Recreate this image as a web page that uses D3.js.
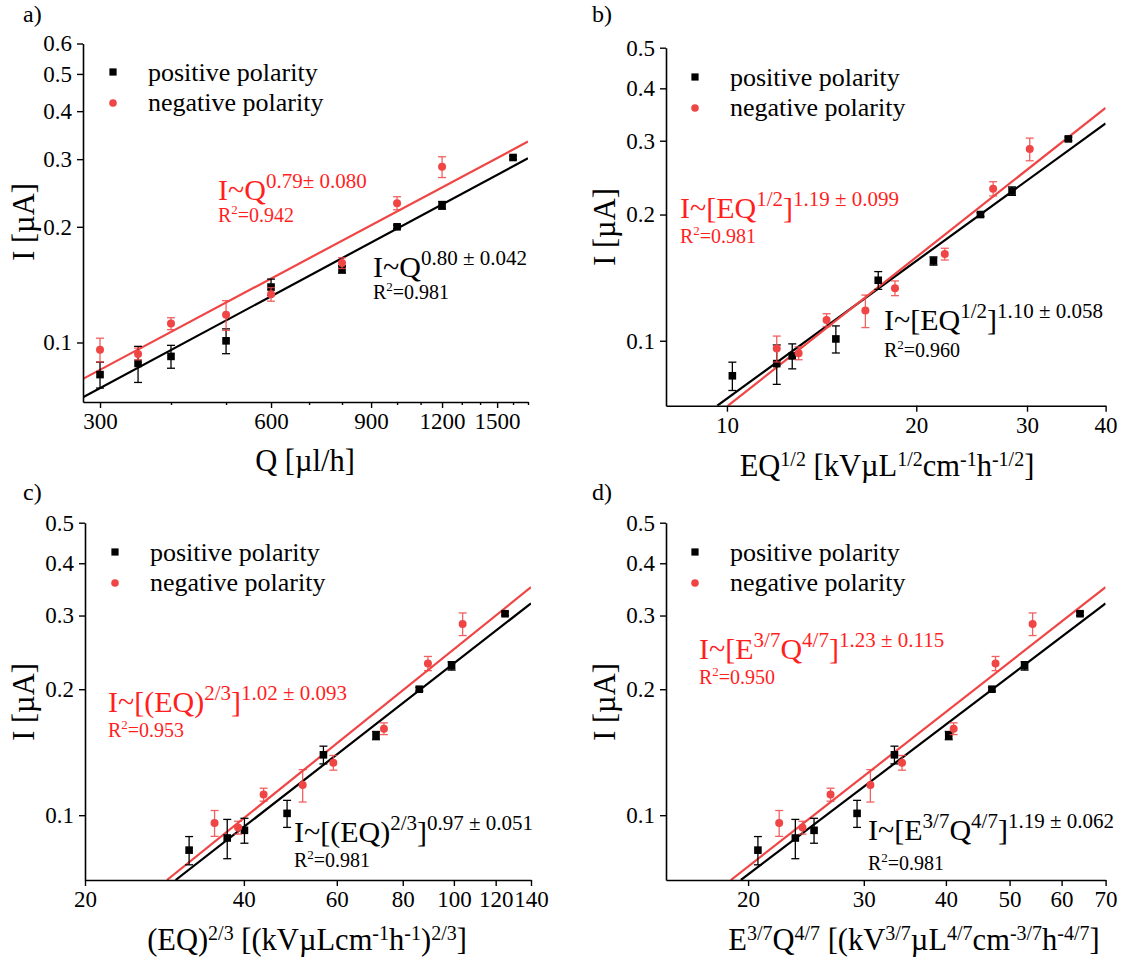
<!DOCTYPE html>
<html>
<head>
<meta charset="utf-8">
<script src="https://cdn.jsdelivr.net/npm/d3@7"></script>
<style>
  body { margin: 0; background: #fff; }
  svg { display: block; }
</style>
</head>
<body>
<div id="chart"></div>
<script>
// measured current, same for all four panels
const posCurrent = [0.0825, 0.0882, 0.092, 0.101, 0.1394, 0.155, 0.2, 0.2275, 0.303];
const posError = [0.0064, 0.0095, 0.0063, 0.0075, 0.0068, 0.0035, 0.002, 0.0053, 0.003];
const negCurrent = [0.0958, 0.0934, 0.112, 0.118, 0.1335, 0.161, 0.2305, 0.2865];
const negError = [0.0068, 0.0033, 0.004, 0.0105, 0.0054, 0.0052, 0.009, 0.0178];

// x values per panel
const posQ = [300, 350, 400, 500, 600, 800, 1000, 1200, 1600];
const negQ = [300, 350, 400, 500, 600, 800, 1000, 1200];
const posEQ12 = [10.2, 12.0, 12.7, 14.9, 17.4, 21.3, 25.3, 28.4, 34.9];
const negEQ12 = [12.0, 13.0, 14.4, 16.6, 18.5, 22.2, 26.5, 30.3];
const posEQ23 = [31.5, 37.2, 40.1, 48.3, 56.6, 71.2, 86, 99, 125];
const negEQ23 = [35.2, 39, 43.6, 51.7, 59.1, 73.7, 89.3, 103.9];
const posE37Q47 = [20.7, 23.6, 25.2, 29.3, 33.4, 40.4, 47.0, 52.7, 64.0];
const negE37Q47 = [22.3, 24.2, 26.7, 30.7, 34.3, 41.1, 47.6, 54.2];

// fitted power-law lines, two points each [x, I]
const fitPosQ = [[280, 0.0720], [1700, 0.3016]];
const fitNegQ = [[280, 0.0804], [1700, 0.3334]];
const fitPosEQ12 = [[9.65, 0.07], [40, 0.330]];
const fitNegEQ12 = [[10.04, 0.07], [40, 0.3594]];
const fitPosEQ23 = [[29.7, 0.07], [140, 0.3208]];
const fitNegEQ23 = [[28.6, 0.07], [140, 0.3507]];
const fitPosE37 = [[19.5, 0.07], [70, 0.3208]];
const fitNegE37 = [[18.83, 0.07], [70, 0.3507]];

// ticks
const qTicks = [300, 600, 900, 1200, 1500];
const qMinorTicks = [400, 500, 700, 800, 1000, 1100, 1300, 1400, 1600, 1700];
const eq12Ticks = [10, 20, 30, 40];
const eq23Ticks = [20, 40, 60, 80, 100, 120, 140];
const e37Ticks = [20, 30, 40, 50, 60, 70];
const currentTicksA = [0.1, 0.2, 0.3, 0.4, 0.5, 0.6];
const currentTicks = [0.1, 0.2, 0.3, 0.4, 0.5];

const legendLabels = ["positive polarity", "negative polarity"];

const FONT = "'Liberation Serif', Tinos, 'Times New Roman', 'Nimbus Roman', 'DejaVu Serif', serif";
const black = "#000";
const red = "#f04545";
const redText = "#ff1f1f";

const panels = [
  {
    tag: "a)", tagX: 23, tagY: 22,
    left: 83, right: 528, top: 43.5, bottom: 402,
    xDomain: [280, 1700], yDomain: [0.07, 0.6],
    xTicks: qTicks, xMinor: qMinorTicks, yTicks: currentTicksA,
    posX: posQ, negX: negQ, fitPos: fitPosQ, fitNeg: fitNegQ,
    xTitle: [["Q [µl/h]", 0]], xTitleX: 305, xTitleY: 471,
    yTitleX: 34, yTitleY: 222,
    legX: 113, legY: 72,
    negAnn: { x: 218, y: 200, r2y: 221.5, main: [["I~Q", 0], ["0.79± 0.080", 1]], r2: "0.942" },
    posAnn: { x: 373, y: 277, r2y: 298.5, main: [["I~Q", 0], ["0.80 ± 0.042", 1]], r2: "0.981" }
  },
  {
    tag: "b)", tagX: 592, tagY: 22,
    left: 666, right: 1105.6, top: 47.7, bottom: 405.7,
    xDomain: [8, 40], yDomain: [0.07, 0.5],
    xTicks: eq12Ticks, xMinor: [], yTicks: currentTicks,
    posX: posEQ12, negX: negEQ12, fitPos: fitPosEQ12, fitNeg: fitNegEQ12,
    xTitle: [["EQ", 0], ["1/2", 1], [" [kVµL", 0], ["1/2", 1], ["cm", 0], ["-1", 1], ["h", 0], ["-1/2", 1], ["]", 0]],
    xTitleX: 887, xTitleY: 476,
    yTitleX: 615, yTitleY: 227,
    legX: 695, legY: 77,
    negAnn: { x: 680, y: 218, r2y: 243, main: [["I~[EQ", 0], ["1/2", 1], ["]", 0], ["1.19 ± 0.099", 1]], r2: "0.981" },
    posAnn: { x: 884, y: 330, r2y: 356.5, main: [["I~[EQ", 0], ["1/2", 1], ["]", 0], ["1.10 ± 0.058", 1]], r2: "0.960" }
  },
  {
    tag: "c)", tagX: 23, tagY: 500,
    left: 85, right: 531, top: 522.7, bottom: 880,
    xDomain: [20, 140], yDomain: [0.07, 0.5],
    xTicks: eq23Ticks, xMinor: [], yTicks: currentTicks,
    posX: posEQ23, negX: negEQ23, fitPos: fitPosEQ23, fitNeg: fitNegEQ23,
    xTitle: [["(EQ)", 0], ["2/3", 1], [" [(kVµLcm", 0], ["-1", 1], ["h", 0], ["-1", 1], [")", 0], ["2/3", 1], ["]", 0]],
    xTitleX: 307, xTitleY: 950,
    yTitleX: 34, yTitleY: 702,
    legX: 115, legY: 552,
    negAnn: { x: 108, y: 711.5, r2y: 736.5, main: [["I~[(EQ)", 0], ["2/3", 1], ["]", 0], ["1.02 ± 0.093", 1]], r2: "0.953" },
    posAnn: { x: 294, y: 841.5, r2y: 866.5, main: [["I~[(EQ)", 0], ["2/3", 1], ["]", 0], ["0.97 ± 0.051", 1]], r2: "0.981" }
  },
  {
    tag: "d)", tagX: 592, tagY: 500,
    left: 666, right: 1105.6, top: 522.7, bottom: 880,
    xDomain: [15, 70], yDomain: [0.07, 0.5],
    xTicks: e37Ticks, xMinor: [], yTicks: currentTicks,
    posX: posE37Q47, negX: negE37Q47, fitPos: fitPosE37, fitNeg: fitNegE37,
    xTitle: [["E", 0], ["3/7", 1], ["Q", 0], ["4/7", 1], [" [(kV", 0], ["3/7", 1], ["µL", 0], ["4/7", 1], ["cm", 0], ["-3/7", 1], ["h", 0], ["-4/7", 1], ["]", 0]],
    xTitleX: 914, xTitleY: 950,
    yTitleX: 615, yTitleY: 702,
    legX: 695, legY: 552,
    negAnn: { x: 699, y: 658.5, r2y: 684, main: [["I~[E", 0], ["3/7", 1], ["Q", 0], ["4/7", 1], ["]", 0], ["1.23 ± 0.115", 1]], r2: "0.950" },
    posAnn: { x: 868, y: 840, r2y: 870, main: [["I~[E", 0], ["3/7", 1], ["Q", 0], ["4/7", 1], ["]", 0], ["1.19 ± 0.062", 1]], r2: "0.981" }
  }
];

const svg = d3.select("#chart").append("svg")
  .attr("width", 1128)
  .attr("height", 968)
  .attr("font-family", FONT);

// text with superscripts; segments are [text, isSup]
function richText(parent, x, y, segments, size, supSize, rise, color, anchor) {
  const t = parent.append("text")
    .attr("x", x)
    .attr("y", y)
    .attr("fill", color)
    .attr("font-family", FONT)
    .attr("font-size", size)
    .attr("text-anchor", anchor || "start");
  let up = false;
  segments.forEach(([s, sup]) => {
    const ts = t.append("tspan").text(s);
    if (sup && !up) { ts.attr("dy", -rise); up = true; }
    else if (!sup && up) { ts.attr("dy", rise); up = false; }
    ts.attr("font-size", sup ? supSize : size);
  });
  return t;
}

panels.forEach((p, pi) => {
  const x = d3.scaleLog().domain(p.xDomain).range([p.left, p.right]);
  const y = d3.scaleLog().domain(p.yDomain).range([p.bottom, p.top]);
  const g = svg.append("g");

  const clipId = "clip" + pi;
  g.append("clipPath").attr("id", clipId)
    .append("rect")
    .attr("x", p.left).attr("y", p.top)
    .attr("width", p.right - p.left).attr("height", p.bottom - p.top);

  // fit lines
  const line = d3.line().x(d => x(d[0])).y(d => y(d[1]));
  g.append("path").datum(p.fitPos)
    .attr("d", line).attr("fill", "none")
    .attr("stroke", black).attr("stroke-width", 2.2)
    .attr("clip-path", `url(#${clipId})`);
  g.append("path").datum(p.fitNeg)
    .attr("d", line).attr("fill", "none")
    .attr("stroke", red).attr("stroke-width", 2.2)
    .attr("clip-path", `url(#${clipId})`);

  // error bars + markers
  const series = [
    { xs: p.posX, ys: posCurrent, es: posError, color: black, shape: "square" },
    { xs: p.negX, ys: negCurrent, es: negError, color: red, shape: "circle" }
  ];
  series.forEach(s => {
    const pts = s.xs.map((v, i) => ({ x: v, y: s.ys[i], e: s.es[i] }));
    const eb = g.append("g").attr("stroke", s.color).attr("stroke-width", 1.3)
      .attr("opacity", s.shape === "circle" ? 0.85 : 1);
    eb.selectAll("line.v").data(pts).enter().append("line")
      .attr("x1", d => x(d.x)).attr("x2", d => x(d.x))
      .attr("y1", d => y(d.y - d.e)).attr("y2", d => y(d.y + d.e));
    eb.selectAll("line.top").data(pts).enter().append("line")
      .attr("x1", d => x(d.x) - 4).attr("x2", d => x(d.x) + 4)
      .attr("y1", d => y(d.y + d.e)).attr("y2", d => y(d.y + d.e));
    eb.selectAll("line.bot").data(pts).enter().append("line")
      .attr("x1", d => x(d.x) - 4).attr("x2", d => x(d.x) + 4)
      .attr("y1", d => y(d.y - d.e)).attr("y2", d => y(d.y - d.e));

    if (s.shape === "square") {
      g.selectAll(null).data(pts).enter().append("rect")
        .attr("x", d => x(d.x) - 3.8).attr("y", d => y(d.y) - 3.8)
        .attr("width", 7.6).attr("height", 7.6)
        .attr("fill", s.color);
    } else {
      g.selectAll(null).data(pts).enter().append("circle")
        .attr("cx", d => x(d.x)).attr("cy", d => y(d.y))
        .attr("r", 4).attr("fill", s.color);
    }
  });

  // axes
  const xAxis = g.append("g")
    .attr("transform", `translate(0,${p.bottom})`)
    .call(d3.axisBottom(x).tickValues(p.xTicks).tickFormat(d3.format("d"))
      .tickSize(6).tickSizeOuter(0).tickPadding(5));
  if (p.xMinor.length) {
    g.append("g")
      .attr("transform", `translate(0,${p.bottom})`)
      .call(d3.axisBottom(x).tickValues(p.xMinor).tickFormat("").tickSize(3).tickSizeOuter(0))
      .call(a => a.select(".domain").remove());
  }
  const yAxis = g.append("g")
    .attr("transform", `translate(${p.left},0)`)
    .call(d3.axisLeft(y).tickValues(p.yTicks).tickFormat(d => String(d))
      .tickSize(6).tickSizeOuter(0).tickPadding(5));

  [xAxis, yAxis].forEach(a => {
    a.attr("font-family", FONT);
    a.selectAll("path.domain").attr("stroke", black).attr("stroke-width", 1.6);
    a.selectAll(".tick line").attr("stroke", black).attr("stroke-width", 1.4);
    a.selectAll(".tick text")
      .attr("font-family", FONT)
      .attr("font-size", 23)
      .attr("fill", black);
  });
  g.selectAll(".tick line").attr("stroke-width", 1.4);

  // titles
  richText(g, p.xTitleX, p.xTitleY, p.xTitle, 30.5, 20, 10.5, black, "middle");
  g.append("text")
    .attr("transform", `translate(${p.yTitleX},${p.yTitleY}) rotate(-90)`)
    .attr("text-anchor", "middle")
    .attr("font-family", FONT)
    .attr("font-size", 30.5)
    .attr("fill", black)
    .text("I [µA]");
  g.append("text")
    .attr("x", p.tagX).attr("y", p.tagY)
    .attr("font-family", FONT)
    .attr("font-size", 24).attr("fill", black)
    .text(p.tag);

  // legend
  const leg = g.append("g");
  leg.append("rect")
    .attr("x", p.legX - 3.6).attr("y", p.legY - 3.6)
    .attr("width", 7.2).attr("height", 7.2).attr("fill", black);
  leg.append("circle")
    .attr("cx", p.legX).attr("cy", p.legY + 31)
    .attr("r", 3.8).attr("fill", red);
  leg.selectAll("text").data(legendLabels).enter().append("text")
    .attr("x", p.legX + 35)
    .attr("y", (d, i) => p.legY + 8.5 + i * 30)
    .attr("font-family", FONT)
    .attr("font-size", 26)
    .attr("fill", black)
    .text(d => d);

  // fit annotations
  [[p.negAnn, redText], [p.posAnn, black]].forEach(([a, c]) => {
    richText(g, a.x, a.y, a.main, 30, 21, 12, c);
    richText(g, a.x, a.r2y, [["R", 0], ["2", 1], ["=" + a.r2, 0]], 20, 13, 8, c);
  });
});
</script>
</body>
</html>
